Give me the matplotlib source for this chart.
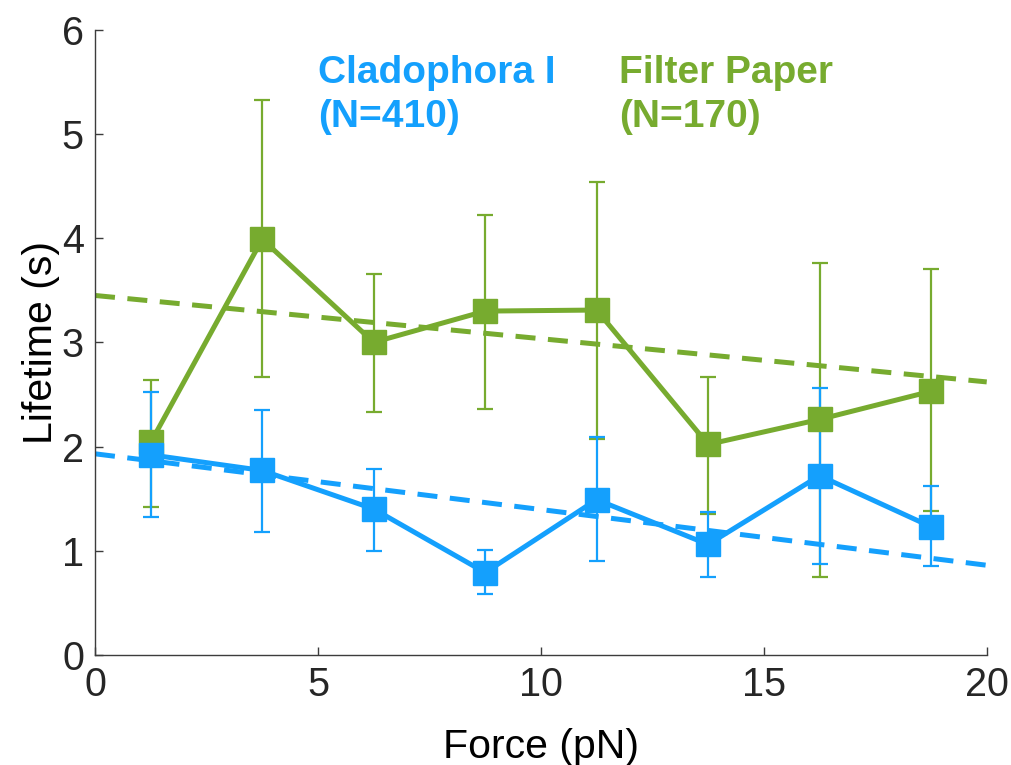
import matplotlib
import matplotlib.pyplot as plt
import numpy as np

matplotlib.use("Agg")

BLUE = "#14a0fd"
GREEN = "#77ab2f"
AXIS = "#3c3c3c"

plt.rcParams["font.family"] = "Liberation Sans"
plt.rcParams["text.color"] = "#262626"

# data
force = [1.25, 3.75, 6.25, 8.75, 11.25, 13.75, 16.25, 18.75]

clad_mean = [1.92, 1.77, 1.40, 0.79, 1.49, 1.06, 1.72, 1.23]
clad_low = [1.32, 1.18, 1.00, 0.58, 0.90, 0.75, 0.87, 0.85]
clad_high = [2.52, 2.35, 1.78, 1.01, 2.09, 1.37, 2.56, 1.62]

filt_mean = [2.04, 3.99, 3.00, 3.30, 3.31, 2.02, 2.26, 2.53]
filt_low = [1.42, 2.67, 2.33, 2.36, 2.07, 1.35, 0.75, 1.38]
filt_high = [2.64, 5.33, 3.66, 4.22, 4.54, 2.67, 3.76, 3.70]

fit_x = [0, 20]
clad_fit = [1.93, 0.86]
filt_fit = [3.45, 2.62]

fig = plt.figure(figsize=(10.11, 7.65), dpi=100)
ax = fig.add_axes([0.094, 0.144, 0.882, 0.817])


def draw(mean, low, high, fit, color):
    mean = np.array(mean)
    yerr = [mean - np.array(low), np.array(high) - mean]
    ax.errorbar(force, mean, yerr=yerr, fmt="none", ecolor=color, elinewidth=1.6,
                capsize=6, capthick=1.6, zorder=2)
    ax.plot(fit_x, fit, color=color, lw=3.6, linestyle=(0, (4, 2.5)), zorder=2)
    ax.plot(force, mean, color=color, lw=3.6, marker="s", markersize=17.5, zorder=3)


draw(filt_mean, filt_low, filt_high, filt_fit, GREEN)
draw(clad_mean, clad_low, clad_high, clad_fit, BLUE)

ax.text(5.0, 5.76, "Cladophora I\n(N=410)", color=BLUE, fontsize=28, fontweight="bold",
        va="top", ha="left", linespacing=1.3)
ax.text(11.75, 5.76, "Filter Paper\n(N=170)", color=GREEN, fontsize=28, fontweight="bold",
        va="top", ha="left", linespacing=1.3)

ax.set_xlim(0, 20)
ax.set_ylim(0, 6)
ax.set_xticks([0, 5, 10, 15, 20])
ax.set_yticks([0, 1, 2, 3, 4, 5, 6])
ax.spines[["top", "right"]].set_visible(False)
for s in ["left", "bottom"]:
    ax.spines[s].set_color(AXIS)
    ax.spines[s].set_linewidth(1.0)
ax.tick_params(direction="in", length=6, width=1.0, color=AXIS, labelsize=28.5,
               labelcolor="#262626", pad=8)
ax.set_xlabel("Force (pN)", fontsize=29.5, labelpad=17)
ax.set_ylabel("Lifetime (s)", fontsize=29.5, labelpad=1)

fig.savefig("out.png", dpi=100)
